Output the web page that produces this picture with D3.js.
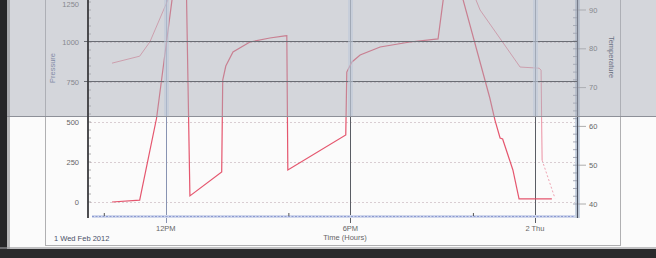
<!DOCTYPE html>
<html>
<head>
<meta charset="utf-8">
<script src="https://cdn.jsdelivr.net/npm/d3@7"></script>
<style>
body{margin:0;background:#fbfbfb;overflow:hidden}
svg{display:block}
</style>
</head>
<body>
<div id="chart"></div>
<script>
// readings (time, pressure)
var pressureTimes = ['2012-02-01 10:15','2012-02-01 11:09','2012-02-01 11:42','2012-02-01 12:12','2012-02-01 12:39',
	'2012-02-01 12:47','2012-02-01 13:49','2012-02-01 13:51','2012-02-01 13:57','2012-02-01 14:11','2012-02-01 14:44',
	'2012-02-01 15:23','2012-02-01 15:52','2012-02-01 15:56','2012-02-01 15:58','2012-02-01 17:51','2012-02-01 17:53',
	'2012-02-01 18:03','2012-02-01 18:19','2012-02-01 18:58','2012-02-01 19:56','2012-02-01 20:51','2012-02-01 21:01',
	'2012-02-01 21:20','2012-02-01 21:40','2012-02-01 22:32','2012-02-01 22:42','2012-02-01 22:52','2012-02-01 22:57',
	'2012-02-01 23:17','2012-02-01 23:29','2012-02-02 00:33'];
var pressureValues = [0, 12, 525, 1262, 1540,
	38, 188, 762, 850, 938, 1000,
	1025, 1038, 1040, 200, 419, 812,
	875, 919, 969, 1000, 1019, 1262,
	1560, 1262, 650, 512, 400, 394,
	200, 19, 19];

// temperature (null = gap, off the top of the sheet)
var tempTimes = ['2012-02-01 10:15','2012-02-01 11:09','2012-02-01 11:29','2012-02-01 12:04','2012-02-01 12:20',
	'2012-02-01 12:21','2012-02-01 22:05','2012-02-01 22:13','2012-02-01 23:31','2012-02-02 00:08',
	'2012-02-02 00:12','2012-02-02 00:14','2012-02-02 00:39'];
var tempValues = [76.3, 78.1, 81.8, 92.6, 99,
	null, 92.6, 90, 75.3, 75,
	74.5, 51.3, 41.5];

var xTicks = ['2012-02-01 12:00','2012-02-01 18:00','2012-02-02 00:00'];
var xTickLabels = ['12PM','6PM','2 Thu'];
var xMinorTicks = ['2012-02-01 10:00','2012-02-01 16:00','2012-02-01 22:00'];
var pressureTicks = [0, 250, 500, 750, 1000, 1250];
var tempTicks = [40, 50, 60, 70, 80, 90];

var parse = d3.timeParse('%Y-%m-%d %H:%M');
var W = 656, H = 258;
var shadeY = 116;
var font = 'Liberation Sans, Arial, sans-serif';

var svg = d3.select('#chart').append('svg').attr('width', W).attr('height', H);

var x = d3.scaleTime()
	.domain([parse('2012-02-01 09:36'), parse('2012-02-02 01:24')])
	.range([92, 578]);
var yP = d3.scaleLinear().domain([0, 1250]).range([202, 2]);
var yT = d3.scaleLinear().domain([40, 90]).range([204, 10]);

var pressure = pressureTimes.map(function(t, i){ return {t: parse(t), v: pressureValues[i]}; });
var temp = tempTimes.map(function(t, i){ return {t: parse(t), v: tempValues[i]}; });

// sheet frame
svg.append('rect').attr('x', 45.5).attr('y', -2).attr('width', 575).attr('height', 247.5)
	.attr('fill', 'none').attr('stroke', '#b0b0b2').attr('stroke-width', 1);

// dotted grid
svg.append('g').selectAll('line').data(pressureTicks.filter(function(d){ return d < 1250; })).enter().append('line')
	.attr('x1', 90).attr('x2', 577)
	.attr('y1', function(d){ return yP(d) + 0.5; }).attr('y2', function(d){ return yP(d) + 0.5; })
	.attr('stroke', '#d9cdd2').attr('stroke-width', 1).attr('stroke-dasharray', '2,2');

// vertical time grid
svg.append('g').selectAll('line').data(xTicks).enter().append('line')
	.attr('x1', function(d){ return Math.round(x(parse(d))) + 0.5; })
	.attr('x2', function(d){ return Math.round(x(parse(d))) + 0.5; })
	.attr('y1', 0).attr('y2', 223)
	.attr('stroke', function(d, i){ return i == 0 ? '#8893b2' : '#5a5d64'; })
	.attr('stroke-width', 1);

// x axis (blue dotted)
svg.append('line').attr('x1', 92).attr('x2', 579).attr('y1', 216.5).attr('y2', 216.5)
	.attr('stroke', '#d0d7ec').attr('stroke-width', 3);
svg.append('line').attr('x1', 92).attr('x2', 579).attr('y1', 216.5).attr('y2', 216.5)
	.attr('stroke', '#8d9bd2').attr('stroke-width', 1.1).attr('stroke-dasharray', '2,1.5');
svg.append('g').selectAll('line').data(xMinorTicks).enter().append('line')
	.attr('x1', function(d){ return x(parse(d)); }).attr('x2', function(d){ return x(parse(d)); })
	.attr('y1', 213).attr('y2', 216)
	.attr('stroke', '#555').attr('stroke-width', 1);

// left axis ticks
var leftAxis = svg.append('g');
leftAxis.selectAll('.minor').data(d3.range(0, 1300, 50)).enter().append('line')
	.attr('class', 'minor')
	.attr('x1', 88).attr('x2', 91)
	.attr('y1', function(d){ return yP(d); }).attr('y2', function(d){ return yP(d); })
	.attr('stroke', '#999').attr('stroke-width', 0.8);
leftAxis.selectAll('text').data(pressureTicks).enter().append('text')
	.attr('x', 79).attr('y', function(d){ return Math.max(yP(d) + 2.5, 7); })
	.attr('text-anchor', 'end')
	.attr('font-family', font).attr('font-size', 7.5)
	.attr('fill', '#666')
	.text(function(d){ return d; });

// right axis
var rightAxis = svg.append('g');
rightAxis.append('rect').attr('x', 575).attr('y', 0).attr('width', 5).attr('height', 218)
	.attr('fill', '#c8d3e2');
rightAxis.append('line').attr('x1', 577.5).attr('x2', 577.5).attr('y1', 0).attr('y2', 218)
	.attr('stroke', '#4a5060').attr('stroke-width', 1.2);
rightAxis.selectAll('.minor').data(d3.range(40, 92, 2)).enter().append('line')
	.attr('class', 'minor')
	.attr('x1', 573).attr('x2', 577)
	.attr('y1', function(d){ return yT(d); }).attr('y2', function(d){ return yT(d); })
	.attr('stroke', '#9096a4').attr('stroke-width', 0.8);
rightAxis.selectAll('.major').data(tempTicks).enter().append('line')
	.attr('class', 'major')
	.attr('x1', 578).attr('x2', 586)
	.attr('y1', function(d){ return yT(d); }).attr('y2', function(d){ return yT(d); })
	.attr('stroke', '#999').attr('stroke-width', 0.8);
rightAxis.selectAll('text').data(tempTicks).enter().append('text')
	.attr('x', 589).attr('y', function(d){ return yT(d) + 2.5; })
	.attr('font-family', font).attr('font-size', 7.5)
	.attr('fill', '#666')
	.text(function(d){ return d; });

// axis titles and labels
svg.append('text').attr('transform', 'translate(55,68) rotate(-90)')
	.attr('text-anchor', 'middle').attr('font-family', font).attr('font-size', 7.5)
	.attr('fill', '#5d6c96').text('Pressure');
svg.append('text').attr('transform', 'translate(609,57) rotate(90)')
	.attr('text-anchor', 'middle').attr('font-family', font).attr('font-size', 7.5)
	.attr('fill', '#2e3550').text('Temperature');
svg.append('g').selectAll('text').data(xTicks).enter().append('text')
	.attr('x', function(d){ return x(parse(d)); }).attr('y', 231)
	.attr('text-anchor', 'middle').attr('font-family', font).attr('font-size', 7.5)
	.attr('fill', '#666')
	.text(function(d, i){ return xTickLabels[i]; });
svg.append('text').attr('x', 345).attr('y', 240)
	.attr('text-anchor', 'middle').attr('font-family', font).attr('font-size', 7.5)
	.attr('fill', '#666').text('Time (Hours)');
svg.append('text').attr('x', 54).attr('y', 241)
	.attr('font-family', font).attr('font-size', 7.5)
	.attr('fill', '#4a5068').text('1 Wed Feb 2012');

// data lines
var tempLine = d3.line()
	.defined(function(d){ return d.v != null; })
	.x(function(d){ return x(d.t); })
	.y(function(d){ return yT(d.v); });
svg.append('path').datum(temp.slice(0, temp.length - 1))
	.attr('d', tempLine)
	.attr('fill', 'none').attr('stroke', '#e56e86').attr('stroke-width', 1).attr('opacity', 0.75);
svg.append('path').datum(temp.slice(temp.length - 2))
	.attr('d', tempLine)
	.attr('fill', 'none').attr('stroke', '#ec9aaa').attr('stroke-width', 0.9)
	.attr('stroke-dasharray', '2,2');

var pLine = d3.line()
	.x(function(d){ return x(d.t); })
	.y(function(d){ return yP(d.v); });
svg.append('path').datum(pressure)
	.attr('d', pLine)
	.attr('fill', 'none').attr('stroke', '#e2445e').attr('stroke-width', 1.2).attr('opacity', 0.9);

// grey shadow over the top of the sheet
svg.append('rect').attr('x', 0).attr('y', 0).attr('width', W).attr('height', shadeY)
	.attr('fill', 'rgb(170,174,183)').attr('opacity', 0.48);
svg.append('line').attr('x1', 0).attr('x2', W).attr('y1', shadeY + 0.5).attr('y2', shadeY + 0.5)
	.attr('stroke', '#8d9098').attr('stroke-width', 1);

// grid lines showing dark under the shadow
svg.append('g').selectAll('line').data(pressureTicks.filter(function(d){ return yP(d) < shadeY && d < 1250; })).enter().append('line')
	.attr('x1', 84).attr('x2', 577)
	.attr('y1', function(d){ return Math.round(yP(d)) - 0.5; }).attr('y2', function(d){ return Math.round(yP(d)) - 0.5; })
	.attr('stroke', '#6a6d74').attr('stroke-width', 1.2);

// pale blue bands of the time grid in the shadow
svg.append('g').selectAll('rect').data(xTicks).enter().append('rect')
	.attr('x', function(d){ return Math.round(x(parse(d))) - 2; })
	.attr('y', 0).attr('width', 5).attr('height', shadeY)
	.attr('fill', '#bcc8d8').attr('opacity', 0.55);

// left axis line
svg.append('line').attr('x1', 88).attr('x2', 88).attr('y1', 0).attr('y2', 218)
	.attr('stroke', '#3a3a3e').attr('stroke-width', 1.8);

// photo edges
svg.append('rect').attr('x', 0).attr('y', 0).attr('width', 7).attr('height', H).attr('fill', '#262628');
svg.append('rect').attr('x', 7).attr('y', 0).attr('width', 3).attr('height', H).attr('fill', '#8a8a8e').attr('opacity', 0.6);
svg.append('rect').attr('x', 0).attr('y', 249).attr('width', W).attr('height', 9).attr('fill', '#2a2a2c');
svg.append('rect').attr('x', 0).attr('y', 247).attr('width', W).attr('height', 2).attr('fill', '#9a9a9c').attr('opacity', 0.6);
</script>
</body>
</html>
